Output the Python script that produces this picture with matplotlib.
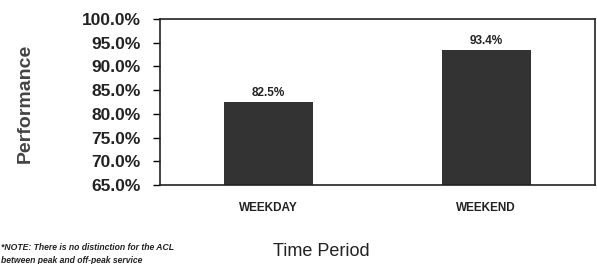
import matplotlib.pyplot as plt
import numpy as np

# Data
periods = ["WEEKDAY", "WEEKEND"]
performance = [82.5, 93.4]  # percent
y_ticks = [65, 70, 75, 80, 85, 90, 95, 100]

plt.rcParams['font.family'] = ['Liberation Sans', 'DejaVu Sans']

fig = plt.figure(figsize=(5.97, 2.64), dpi=100)
ax = fig.add_axes([160 / 597, 1 - 185 / 264, 435 / 597, 166 / 264])

x = np.arange(len(periods))
ax.bar(x, performance, width=0.41, color="#333333", bottom=0)

ax.set_ylim(65, 100)
ax.set_xlim(-0.5, 1.5)
ax.set_yticks(y_ticks)
ax.set_yticklabels([f"{v:.1f}%" for v in y_ticks], fontsize=12.5, fontweight="bold", color="#222222")
ax.set_xticks(x)
ax.set_xticklabels(periods, fontsize=8.5, fontweight="bold", color="#222222")
ax.tick_params(axis="x", length=0, pad=12)
ax.tick_params(axis="y", length=5, width=1, pad=9)

for spine in ax.spines.values():
    spine.set_linewidth(1.2)
    spine.set_color("#222222")

# value labels on top of bars
for xi, val in zip(x, performance):
    ax.text(xi, val + 0.6, f"{val:.1f}%", ha="center", va="bottom",
            fontsize=8.5, fontweight="bold", color="#222222")

fig.text(25 / 597, 1 - 103 / 264, "Performance", rotation=90, ha="center", va="center",
         fontsize=14, fontweight="bold", color="#444444")

fig.text(321 / 597, 1 - 251 / 264, "Time Period", ha="center", va="center",
         fontsize=13, color="#222222")

# note sits at the very bottom edge, as in the reference
fig.text(1 / 597, 1 - 243 / 264, "*NOTE: There is no distinction for the ACL\nbetween peak and off-peak service",
         ha="left", va="top", fontsize=6.2, fontweight="bold", fontstyle="italic",
         color="#222222", linespacing=1.55)

fig.savefig("out.png", dpi=100)
